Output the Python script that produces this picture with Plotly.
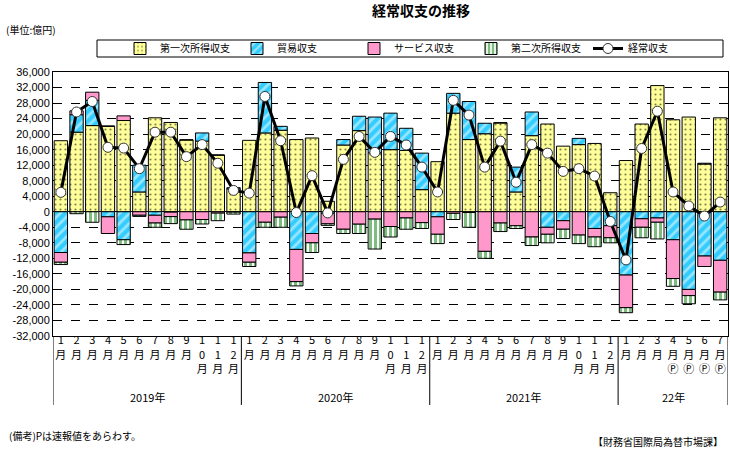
import plotly.graph_objects as go

months = ["1月","2月","3月","4月","5月","6月","7月","8月","9月","10月","11月","12月"] * 3 + ["1月","2月","3月","4月","5月","6月","7月"]
prelim = [False]*39 + [True]*4
years = ["2019年", "2020年", "2021年", "22年"]
year_counts = [12, 12, 12, 7]

primary = [18300, 20500, 22200, 22000, 23500, 5100, 24200, 23000, 18500, 18200, 14600, 5900,
           18400, 20300, 21000, 18600, 19000, 2700, 17200, 20900, 15200, 16000, 15800, 5700,
           12900, 25400, 18600, 20100, 22900, 5100, 19600, 22600, 16900, 17300, 17600, 4900,
           13200, 22600, 32500, 23700, 24400, 12300, 24200]
trade = [-10500, 4500, 6500, -1300, -7200, 6900, -900, -100, 0, 2100, 0, 300,
         -10600, 13000, 1000, -9700, -5600, -400, 1400, 3700, 9200, 9400, 5700, 9400,
         -1300, 5100, 9800, 2700, 0, 6400, 6100, -4000, -2300, 1600, -4300, -3600,
         -16300, -1800, -1600, -7200, -20000, -11400, -12500]
services = [-2500, 1000, 2100, -4300, 1200, -900, -2000, -1150, -2100, -2000, -350, -100,
            -2400, -2700, -1400, -8300, -2400, -2700, -4500, -3200, -1900, -3800, -1600, -2800,
            -4500, -400, -200, -10200, -2900, -3600, -6500, -1800, -2200, -6000, -2200, -3100,
            -8400, -2200, -1100, -10000, -1600, -2700, -8200]
secondary = [-600, -500, -2700, 100, -1250, -300, -1100, -1800, -2400, -1150, -1950, -500,
             -1100, -1300, -2600, -1100, -2500, -400, -1100, -2400, -7700, -2700, -2900, -1500,
             -2400, -1600, -3800, -1800, -2200, -700, -2200, -2200, -2400, -2200, -2500, -1300,
             -1300, -2700, -4300, -2000, -2100, 200, -2000]
current = [5000, 25700, 28400, 16600, 16400, 11100, 20500, 20500, 14200, 17300, 12500, 5500,
           4800, 29700, 18300, -200, 9300, -300, 13500, 19400, 15300, 19400, 17200, 11500,
           5100, 28700, 24900, 11500, 18200, 7600, 17300, 15100, 10400, 11100, 9200, -2500,
           -12400, 16300, 25900, 5100, 1500, -1100, 2500]

FONT = "Noto Sans CJK JP"
x = list(range(len(months)))

def ticklab(m, p):
    s = "<br>".join(list(m))
    if p:
        s += "<br>Ⓟ"
    return s

ticktext = [ticklab(m, p) for m, p in zip(months, prelim)]

fig = go.Figure()
fig.add_trace(go.Bar(x=x, y=primary, name="第一次所得収支",
                     marker=dict(color="#FFFF99", line=dict(color="black", width=1),
                                 pattern=dict(shape=".", fgcolor="black", bgcolor="#FFFF99", size=5, solidity=0.15))))
fig.add_trace(go.Bar(x=x, y=trade, name="貿易収支",
                     marker=dict(color="#33CCFF", line=dict(color="black", width=1),
                                 pattern=dict(shape="/", fgcolor="white", bgcolor="#33CCFF", size=7, solidity=0.4))))
fig.add_trace(go.Bar(x=x, y=services, name="サービス収支",
                     marker=dict(color="#FF99CC", line=dict(color="black", width=1))))
fig.add_trace(go.Bar(x=x, y=secondary, name="第二次所得収支",
                     marker=dict(color="#008000", line=dict(color="black", width=1),
                                 pattern=dict(shape="|", fgcolor="#007A00", bgcolor="white", size=5, solidity=0.6))))
fig.add_trace(go.Scatter(x=x, y=current, name="経常収支", mode="lines+markers",
                         line=dict(color="black", width=3),
                         marker=dict(symbol="circle", size=10, color="white", line=dict(color="#333333", width=1))))

yt = list(range(-32000, 36001, 4000))
fig.update_layout(
    width=730, height=455,
    margin=dict(l=53, r=2, t=72, b=119, autoexpand=False),
    barmode="relative", bargap=0.15,
    plot_bgcolor="white", paper_bgcolor="white",
    font=dict(family=FONT, size=11, color="black"),
    showlegend=True,
    legend=dict(orientation="h", xref="container", yref="container",
                x=120/730, y=1 - 48.5/455, xanchor="left", yanchor="middle",
                borderwidth=0, entrywidth=72, entrywidthmode="pixels",
                font=dict(size=10, family=FONT), traceorder="normal", itemwidth=30,
                bgcolor="rgba(0,0,0,0)"),
    xaxis=dict(range=[-0.5, 42.5], tickvals=x, ticktext=ticktext, showgrid=False, automargin=False,
               ticks="", showline=True, linecolor="black", linewidth=1, mirror=True,
               ticklabelstandoff=-6,
               tickfont=dict(size=11, family=FONT), zeroline=False),
    yaxis=dict(range=[-32000, 36000], tickvals=yt, ticktext=[f"{v:,}" for v in yt], automargin=False,
               showgrid=True, gridcolor="black", griddash="dash", gridwidth=1,
               zeroline=True, zerolinecolor="black", zerolinewidth=1,
               showline=True, linecolor="black", linewidth=1, mirror=True,
               tickfont=dict(size=11, family="Liberation Sans"), ticks=""),
)

# legend frame
fig.add_shape(type="rect", xref="paper", yref="paper",
              x0=(97 - 53) / 675, x1=(723 - 53) / 675, y0=(336 - 57) / 264, y1=(336 - 40) / 264,
              line=dict(color="black", width=1), fillcolor="rgba(0,0,0,0)", layer="below")

# title & notes
fig.add_annotation(text="<b>経常収支の推移</b>", xref="paper", yref="paper", x=0.545, y=1.235,
                   xanchor="center", yanchor="middle", showarrow=False, font=dict(size=14, family=FONT))
fig.add_annotation(text="(単位:億円)", xref="paper", yref="paper", x=-0.073, y=1.16,
                   xanchor="left", yanchor="middle", showarrow=False, font=dict(size=10, family=FONT))
fig.add_annotation(text="(備考)Pは速報値をあらわす。", xref="paper", yref="paper", x=-0.068, y=-0.375,
                   xanchor="left", yanchor="middle", showarrow=False, font=dict(size=10, family=FONT))
fig.add_annotation(text="【財務省国際局為替市場課】", xref="paper", yref="paper", x=0.995, y=-0.4,
                   xanchor="right", yanchor="middle", showarrow=False, font=dict(size=10, family=FONT))

# year labels and separators
start = 0
ybot = -(405 - 336) / 264
fig.add_shape(type="line", xref="x", yref="paper", x0=-0.5, x1=-0.5, y0=0, y1=ybot,
              line=dict(color="black", width=1))
for yr, cnt in zip(years, year_counts):
    end = start + cnt
    fig.add_annotation(text=yr, xref="x", yref="paper", x=(start + end - 1) / 2, y=-(397 - 336) / 264,
                       xanchor="center", yanchor="middle", showarrow=False, font=dict(size=11, family=FONT))
    fig.add_shape(type="line", xref="x", yref="paper", x0=end - 0.5, x1=end - 0.5, y0=0, y1=ybot,
                  line=dict(color="black", width=1))
    start = end

fig.write_html("out.html", config={"displayModeBar": False},
               post_script="document.body.style.margin='0';document.body.style.overflow='hidden';")
